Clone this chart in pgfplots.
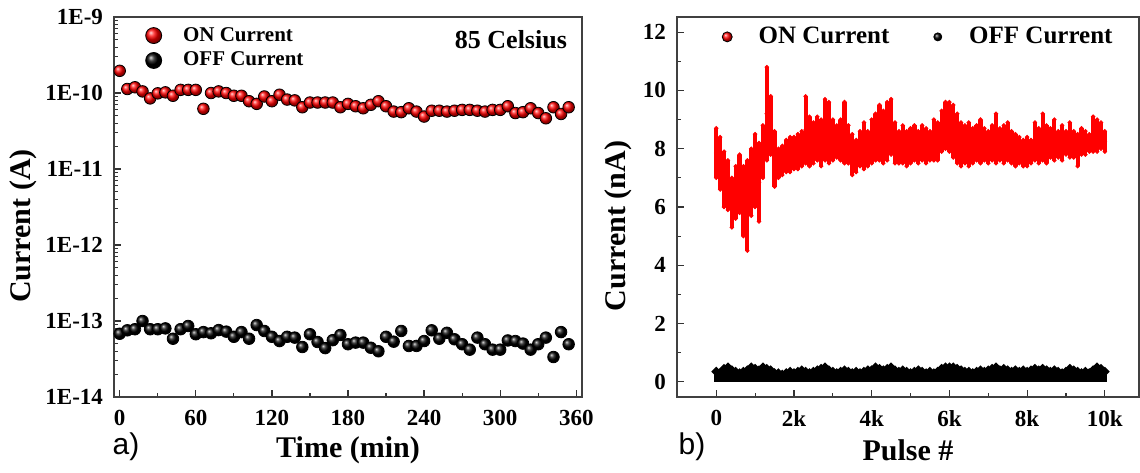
\documentclass[border=0pt]{standalone}
\usepackage{fontspec}
\setmainfont{Liberation Serif}
\newfontfamily\labfont{Liberation Sans}
\usepackage{pgfplots}
\usepackage{pgfplotstable}
\pgfplotsset{compat=1.18}

\pgfplotstableread{
t on off
0 1.96e-10 0.68e-13
6 1.13e-10 0.755e-13
12 1.19e-10 0.78e-13
18 1.05e-10 1.0e-13
24 0.85e-10 0.78e-13
30 0.99e-10 0.78e-13
36 1.02e-10 0.80e-13
42 0.92e-10 0.585e-13
48 1.10e-10 0.78e-13
54 1.10e-10 0.86e-13
60 1.10e-10 0.67e-13
66 0.62e-10 0.715e-13
72 1.00e-10 0.69e-13
78 1.05e-10 0.76e-13
84 1.00e-10 0.725e-13
90 0.92e-10 0.62e-13
96 0.92e-10 0.715e-13
102 0.78e-10 0.585e-13
108 0.72e-10 0.885e-13
114 0.90e-10 0.74e-13
120 0.78e-10 0.62e-13
126 0.95e-10 0.545e-13
132 0.82e-10 0.62e-13
138 0.80e-10 0.605e-13
144 0.65e-10 0.455e-13
150 0.75e-10 0.67e-13
156 0.75e-10 0.53e-13
162 0.75e-10 0.44e-13
168 0.75e-10 0.56e-13
174 0.65e-10 0.655e-13
180 0.72e-10 0.495e-13
186 0.67e-10 0.52e-13
192 0.63e-10 0.52e-13
198 0.70e-10 0.445e-13
204 0.78e-10 0.40e-13
210 0.67e-10 0.62e-13
216 0.57e-10 0.535e-13
222 0.56e-10 0.74e-13
228 0.63e-10 0.47e-13
234 0.57e-10 0.47e-13
240 0.49e-10 0.545e-13
246 0.585e-10 0.755e-13
252 0.585e-10 0.585e-13
258 0.57e-10 0.70e-13
264 0.585e-10 0.575e-13
270 0.60e-10 0.495e-13
276 0.60e-10 0.42e-13
282 0.585e-10 0.605e-13
288 0.57e-10 0.495e-13
294 0.60e-10 0.42e-13
300 0.60e-10 0.42e-13
306 0.67e-10 0.555e-13
312 0.545e-10 0.545e-13
318 0.56e-10 0.505e-13
324 0.63e-10 0.42e-13
330 0.545e-10 0.495e-13
336 0.465e-10 0.605e-13
342 0.65e-10 0.336e-13
348 0.53e-10 0.715e-13
354 0.65e-10 0.495e-13
}\leftdata

\pgfplotstableread{
p lo hi
0 7.0 8.7
100 6.6 8.4
200 6.0 7.9
300 5.9 7.6
400 5.3 7.0
500 5.6 7.4
600 5.8 7.8
700 5.0 7.4
800 4.5 7.6
900 5.7 8.0
1000 6.0 8.5
1100 5.5 8.2
1200 7.0 8.8
1300 7.6 10.8
1400 7.8 9.8
1500 6.7 8.6
1600 7.0 8.0
1700 7.1 8.1
1800 7.2 8.3
1900 7.2 8.4
2000 7.3 8.4
2100 7.3 8.5
2200 7.4 8.6
2300 7.5 9.8
2400 7.4 9.1
2500 7.5 8.9
2600 7.6 9.1
2700 7.4 9.0
2800 7.6 9.7
2900 7.5 9.6
3000 7.6 9.0
3100 7.7 8.8
3200 7.6 9.0
3300 7.5 9.6
3400 7.5 8.8
3500 7.1 8.5
3600 7.2 8.3
3700 7.4 8.6
3800 7.3 8.9
3900 7.4 8.6
4000 7.5 9.0
4100 7.6 9.2
4200 7.6 9.5
4300 7.5 9.3
4400 7.6 9.6
4500 7.8 9.7
4600 7.5 8.9
4700 7.5 8.6
4800 7.5 8.8
4900 7.4 8.6
5000 7.5 8.7
5100 7.6 8.8
5200 7.5 8.6
5300 7.6 8.8
5400 7.5 8.7
5500 7.6 8.6
5600 7.6 9.0
5700 7.6 8.9
5800 7.9 9.3
5900 8.0 9.6
6000 7.9 9.6
6100 7.7 9.5
6200 7.5 9.2
6300 7.4 8.9
6400 7.5 8.8
6500 7.4 8.9
6600 7.5 8.7
6700 7.6 8.8
6800 7.5 9.0
6900 7.6 8.7
7000 7.5 8.6
7100 7.6 8.8
7200 7.5 9.2
7300 7.6 8.7
7400 7.5 8.8
7500 7.6 8.9
7600 7.5 8.6
7700 7.4 8.5
7800 7.5 8.4
7900 7.4 8.3
8000 7.4 8.4
8100 7.5 8.3
8200 7.6 8.9
8300 7.5 8.7
8400 7.6 9.2
8500 7.5 8.8
8600 7.7 8.7
8700 7.6 9.0
8800 7.7 8.6
8900 7.6 8.8
9000 7.8 8.6
9100 7.7 8.9
9200 7.7 8.6
9300 7.4 8.5
9400 7.8 8.7
9500 7.8 8.6
9600 7.9 8.5
9700 7.9 9.1
9800 7.9 9.0
9900 8.0 8.9
10000 7.9 8.6
}\ondata

\pgfplotstableread{
p hi
0 0.35
100 0.30
200 0.45
300 0.50
400 0.40
500 0.35
600 0.30
700 0.35
800 0.40
900 0.50
1000 0.45
1100 0.40
1200 0.50
1300 0.45
1400 0.40
1500 0.30
1600 0.30
1700 0.25
1800 0.30
1900 0.35
2000 0.30
2100 0.35
2200 0.40
2300 0.35
2400 0.30
2500 0.35
2600 0.40
2700 0.45
2800 0.50
2900 0.40
3000 0.35
3100 0.30
3200 0.35
3300 0.40
3400 0.35
3500 0.30
3600 0.35
3700 0.30
3800 0.35
3900 0.40
4000 0.40
4100 0.50
4200 0.45
4300 0.40
4400 0.45
4500 0.50
4600 0.40
4700 0.35
4800 0.40
4900 0.35
5000 0.30
5100 0.35
5200 0.40
5300 0.35
5400 0.30
5500 0.35
5600 0.30
5700 0.35
5800 0.45
5900 0.50
6000 0.50
6100 0.50
6200 0.45
6300 0.40
6400 0.35
6500 0.35
6600 0.30
6700 0.35
6800 0.40
6900 0.35
7000 0.40
7100 0.45
7200 0.50
7300 0.40
7400 0.45
7500 0.40
7600 0.35
7700 0.40
7800 0.35
7900 0.40
8000 0.35
8100 0.40
8200 0.45
8300 0.40
8400 0.45
8500 0.40
8600 0.35
8700 0.40
8800 0.35
8900 0.30
9000 0.35
9100 0.45
9200 0.40
9300 0.35
9400 0.30
9500 0.35
9600 0.30
9700 0.40
9800 0.50
9900 0.45
10000 0.35
}\offdata

\pgfplotsset{
  myaxis/.style={
    scale only axis,
    height=190pt,
    axis line style={black!75, line width=0.7pt},
    tick pos=left,
    tick align=inside,
    major tick length=3.5pt,
    minor tick length=2pt,
    tick style={black!80, line width=0.6pt},
    /pgf/number format/assume math mode=true,
    tick label style={font=\fontsize{11.5}{12}\selectfont\bfseries},
    label style={font=\fontsize{15}{16}\selectfont\bfseries},
    clip=false,
  },
}

\begin{document}
\begin{tikzpicture}
\path[use as bounding box] (0,0) rectangle (570pt,236pt);

% ---------- panel a ----------
\begin{axis}[myaxis,
  at={(57pt,37.5pt)}, anchor=south west,
  width=234pt,
  ymode=log,
  xmin=-4.5, xmax=364.5,
  ymin=1e-14, ymax=1e-9,
  xtick={0,60,...,360},
  xticklabels={0,60,120,180,240,300,360},
  minor x tick num=1,
  ytick={1e-14,1e-13,1e-12,1e-11,1e-10,1e-9},
  yticklabels={1E-14,1E-13,1E-12,1E-11,1E-10,1E-9},
  xticklabel style={yshift=-3pt},
  yticklabel style={xshift=-2pt},
  xlabel={Time (min)},
  ylabel={Current (A)},
  xlabel style={at={(axis description cs:0.5,0)}, anchor=center, yshift=-26.5pt},
  ylabel style={at={(axis description cs:-0.194,0.45)}, anchor=center},
  legend style={at={(axis description cs:0.066,0.985)}, anchor=north west,
    draw=none, fill=none, inner sep=0pt, row sep=0pt,
    font=\fontsize{10.5}{11}\selectfont\bfseries},
  legend cell align=left,
  legend image code/.code={\draw[#1] plot coordinates {(0pt,0pt)}; \path (-4pt,-4pt) (12.5pt,4pt);},
]
\addplot[only marks, mark=ball, mark size=2.9pt, mark options={ball color=red}, forget plot]
  table[x=t, y=on] {\leftdata};
\addplot[only marks, mark=ball, mark size=2.9pt, mark options={ball color=black}, forget plot]
  table[x=t, y=off] {\leftdata};
\addlegendimage{only marks, mark=ball, mark size=4pt, mark options={ball color=red}}
\addlegendentry{ON Current}
\addlegendimage{only marks, mark=ball, mark size=4pt, mark options={ball color=black}}
\addlegendentry{OFF Current}
\node[anchor=east, font=\fontsize{13}{14}\selectfont\bfseries] at ([xshift=-4pt,yshift=-11.5pt]rel axis cs:1,1) {85 Celsius};
\end{axis}

% ---------- panel b ----------
\begin{axis}[myaxis,
  at={(338.5pt,37.5pt)}, anchor=south west,
  width=231pt,
  xmin=-1010, xmax=10880,
  ymin=-0.52, ymax=12.52,
  scaled x ticks=false,
  xtick={0,2000,...,10000},
  xticklabels={0,2k,4k,6k,8k,10k},
  minor x tick num=1,
  ytick={0,2,...,12},
  yticklabels={0,2,4,6,8,10,12},
  minor y tick num=1,
  xticklabel style={yshift=-3pt},
  yticklabel style={xshift=-2pt},
  xlabel={Pulse \#},
  ylabel={Current (nA)},
  xlabel style={at={(axis description cs:0.5,0)}, anchor=center, yshift=-26.5pt},
  ylabel style={at={(axis description cs:-0.128,0.45)}, anchor=center},
  legend style={at={(axis description cs:0.094,0.985)}, anchor=north west,
    draw=none, fill=none, inner sep=0pt,
    font=\fontsize{12.5}{13}\selectfont\bfseries,
    /tikz/every even column/.append style={column sep=19pt}},
  legend columns=2,
  legend image code/.code={\draw[#1] plot coordinates {(0pt,0pt)}; \path (-3pt,-3pt) (13.5pt,3pt);},
]
\addplot[forget plot, only marks, mark=*, mark size=0.9pt, red,
  error bars/.cd, y dir=both, y explicit,
  error bar style={line width=2.1pt, red},
  error mark=*, error mark options={mark size=0.9pt, red}]
  table[x=p, y expr=(\thisrow{lo}+\thisrow{hi})/2,
        y error plus expr=(\thisrow{hi}-\thisrow{lo})/2,
        y error minus expr=(\thisrow{hi}-\thisrow{lo})/2] {\ondata};
\addplot[forget plot, ycomb, black, line width=2.2pt, mark=*, mark size=0.9pt]
  table[x=p, y=hi] {\offdata};
\addlegendimage{only marks, mark=ball, mark size=2.5pt, mark options={ball color=red}}
\addlegendentry{ON Current}
\addlegendimage{only marks, mark=ball, mark size=2pt, mark options={ball color=black}}
\addlegendentry{OFF Current}
\end{axis}

\node[font=\labfont\fontsize{15}{16}\selectfont] at (63pt,12.5pt) {a)};
\node[font=\labfont\fontsize{15}{16}\selectfont] at (346pt,12.5pt) {b)};
\end{tikzpicture}
\end{document}
